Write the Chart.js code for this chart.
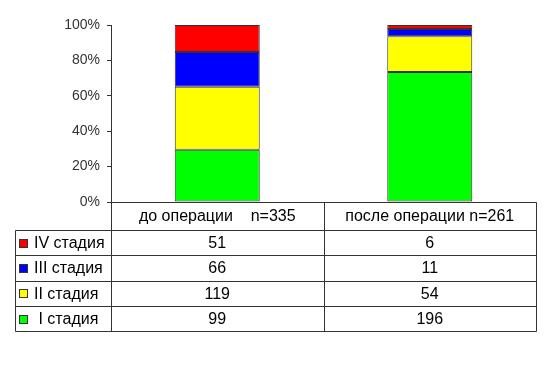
<!DOCTYPE html>
<html>
<head>
<meta charset="utf-8">
<script src="https://cdn.jsdelivr.net/npm/chart.js@4/dist/chart.umd.min.js"></script>
<style>
  html, body { margin: 0; padding: 0; background: #fff; }
  #wrap { width: 550px; height: 369px; }
</style>
</head>
<body>
<div id="wrap"><canvas id="c" width="550" height="369"></canvas></div>
<script>
// Categories (columns)
const categories = ['до операции    n=335', 'после операции n=261'];
// Series names (table rows, bottom-up stacking order)
const seriesNames = [' I стадия', 'II стадия', 'III стадия', 'IV стадия'];
// Counts per stage for each category
const stageI   = [99, 196];
const stageII  = [119, 54];
const stageIII = [66, 11];
const stageIV  = [51, 6];
const seriesColors = ['#00FF00', '#FFFF00', '#0000FF', '#FF0000'];
const yTickLabels = ['0%', '20%', '40%', '60%', '80%', '100%'];

const counts = [stageI, stageII, stageIII, stageIV];
const totals = categories.map((_, i) => counts.reduce((s, arr) => s + arr[i], 0));

const FONT = '"Liberation Sans", Arial, sans-serif';

const tablePlugin = {
  id: 'dataTable',
  afterDraw(chart) {
    const ctx = chart.ctx;
    const area = chart.chartArea;
    const xs = chart.scales.x;
    const left = 15;
    const axisX = area.left;
    const midX = xs.getPixelForValue(0.5);
    const right = area.right;
    const top = area.bottom;
    const headerBottom = 230;
    const rowH = 25.3;
    const nRows = seriesNames.length;
    const bottom = headerBottom + rowH * nRows;

    ctx.save();
    ctx.strokeStyle = '#333';
    ctx.lineWidth = 1;
    const line = (x1, y1, x2, y2) => {
      ctx.beginPath();
      ctx.moveTo(Math.round(x1) + 0.5, Math.round(y1) + 0.5);
      ctx.lineTo(Math.round(x2) + 0.5, Math.round(y2) + 0.5);
      ctx.stroke();
    };
    // horizontal lines
    line(axisX, top, right, top);
    for (let r = 0; r <= nRows; r++) {
      const y = headerBottom + r * rowH;
      line(left, y, right, y);
    }
    // vertical lines
    line(left, headerBottom, left, bottom);
    line(axisX, top, axisX, bottom);
    line(midX, top, midX, bottom);
    line(right, top, right, bottom);

    ctx.fillStyle = '#000';
    ctx.font = '16px ' + FONT;
    ctx.textBaseline = 'middle';
    ctx.textAlign = 'center';
    // header
    categories.forEach((c, i) => {
      const cx = xs.getPixelForValue(i);
      ctx.fillText(c, cx, (top + headerBottom) / 2 + 1);
    });
    // rows: top-down IV, III, II, I
    for (let r = 0; r < nRows; r++) {
      const si = nRows - 1 - r;
      const cy = headerBottom + r * rowH + rowH / 2 + 1;
      // legend square
      ctx.fillStyle = seriesColors[si];
      ctx.fillRect(19.5, Math.round(cy) - 4.5, 8, 8);
      ctx.strokeStyle = '#333';
      ctx.strokeRect(19.5, Math.round(cy) - 4.5, 8, 8);
      ctx.fillStyle = '#000';
      ctx.textAlign = 'left';
      ctx.fillText(seriesNames[si], 34, cy);
      ctx.textAlign = 'center';
      categories.forEach((c, i) => {
        ctx.fillText(String(counts[si][i]), xs.getPixelForValue(i), cy);
      });
    }
    ctx.restore();
  }
};

const datasets = counts.map((arr, si) => ({
  label: seriesNames[si],
  data: arr.map((v, i) => v / totals[i] * 100),
  backgroundColor: seriesColors[si],
  borderColor: '#333',
  borderWidth: 1,
  borderSkipped: false,
  categoryPercentage: 1,
  barPercentage: 0.4
}));

new Chart(document.getElementById('c'), {
  type: 'bar',
  data: { labels: categories, datasets },
  options: {
    responsive: false,
    animation: false,
    devicePixelRatio: 1,
    layout: { padding: { left: 0, right: 14, top: 25, bottom: 167 } },
    plugins: { legend: { display: false }, tooltip: { enabled: false } },
    scales: {
      x: {
        stacked: true,
        grid: { display: false },
        border: { display: false },
        ticks: { display: false },
        afterFit(scale) { scale.height = 0; }
      },
      y: {
        stacked: true,
        min: 0,
        max: 100,
        afterFit(scale) { scale.width = 111; },
        grid: { drawOnChartArea: false, tickLength: 4, color: '#333' },
        border: { display: true, color: '#333' },
        ticks: {
          stepSize: 20,
          padding: 7,
          color: '#333',
          font: { family: FONT, size: 14 },
          callback: (v) => yTickLabels[Math.round(v / 20)]
        }
      }
    }
  },
  plugins: [tablePlugin]
});
</script>
</body>
</html>
